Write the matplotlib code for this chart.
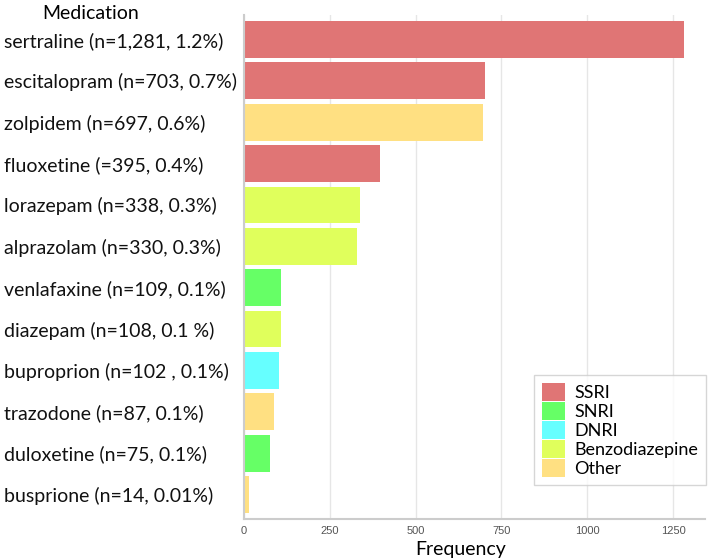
import matplotlib
matplotlib.use('Agg')
import matplotlib.pyplot as plt
from matplotlib.patches import Patch

labels = ['sertraline (n=1,281, 1.2%)', 'escitalopram (n=703, 0.7%)',
          'zolpidem (n=697, 0.6%)', 'fluoxetine (=395, 0.4%)',
          'lorazepam (n=338, 0.3%)', 'alprazolam (n=330, 0.3%)',
          'venlafaxine (n=109, 0.1%)', 'diazepam (n=108, 0.1 %)',
          'buproprion (n=102 , 0.1%)', 'trazodone (n=87, 0.1%)',
          'duloxetine (n=75, 0.1%)', 'busprione (n=14, 0.01%)']
counts = [1281, 703, 697, 395, 338, 330, 109, 108, 102, 87, 75, 14]
classes = ['SSRI', 'SSRI', 'Other', 'SSRI', 'Benzodiazepine', 'Benzodiazepine',
           'SNRI', 'Benzodiazepine', 'DNRI', 'Other', 'SNRI', 'Other']
class_names = ['SSRI', 'SNRI', 'DNRI', 'Benzodiazepine', 'Other']
class_colors = {'SSRI': '#E07575', 'SNRI': '#66FF66', 'DNRI': '#66FFFF',
                'Benzodiazepine': '#E0FF5C', 'Other': '#FFE082'}
xticks = [0, 250, 500, 750, 1000, 1250]

fig = plt.figure(figsize=(7.22, 5.58), dpi=100)
ax = fig.add_axes([0.338, 0.070, 0.6385, 0.903])

ypos = list(range(len(labels)))
ax.barh(ypos, counts, height=0.89, color=[class_colors[c] for c in classes], zorder=2)

ax.set_ylim(len(labels) - 0.41, -0.59)
ax.set_xlim(0, 1343)
ax.set_yticks(ypos)
ax.set_yticklabels(labels, fontfamily='Lato', fontsize=14, color='#111111', ha='left')
ax.set_xticks(xticks)
ax.set_xticklabels([str(t) for t in xticks], fontfamily='Liberation Sans', fontsize=8, color='#555555')
ax.tick_params(axis='y', length=0, pad=173)
ax.tick_params(axis='x', length=0, pad=5)

# light vertical grid, grey left/bottom axis lines
ax.grid(axis='x', color='#e6e6e6', linewidth=1, zorder=0)
for s in ['top', 'right']:
    ax.spines[s].set_visible(False)
for s in ['left', 'bottom']:
    ax.spines[s].set_color('#cccccc')
    ax.spines[s].set_linewidth(1.5)

ax.set_xlabel('Frequency', fontfamily='Lato', fontsize=14, labelpad=0)
ax.xaxis.set_label_coords(0.47, -0.043)
fig.text(0.125, 0.975, 'Medication', fontfamily='Lato', fontsize=14, ha='center', va='center')

handles = [Patch(facecolor=class_colors[c], edgecolor='none') for c in class_names]
leg = ax.legend(handles, class_names, loc='lower right', bbox_to_anchor=(1.003, 0.067),
                borderaxespad=0, prop={'family': 'Lato', 'size': 13}, frameon=True,
                fancybox=False, handlelength=1.3, handleheight=1.15, handletextpad=0.5,
                labelspacing=0.05, borderpad=0.45)
leg.get_frame().set_edgecolor('#cccccc')
leg.get_frame().set_linewidth(1)

fig.savefig('out.png', dpi=100)
